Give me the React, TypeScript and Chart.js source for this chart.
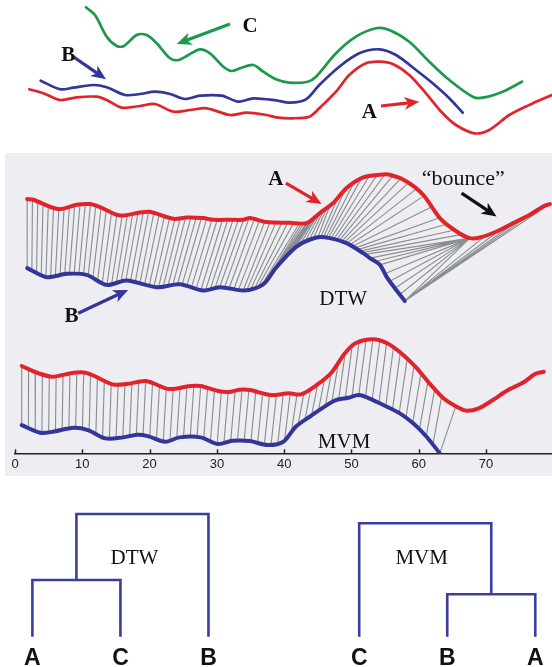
import React, { useEffect, useRef } from 'react';
import { Chart, registerables } from 'chart.js';

Chart.register(...registerables);

// ---------------- data (x: time index, y: amplitude) ----------------
const topA: [number, number][] = [
  [2.11, 6.07], [4.19, 5.67], [6.67, 5.0], [9.15, 5.27], [12.12, 5.33], [13.61, 5.0], [15.84, 4.23],
  [18.56, 4.4], [20.79, 4.6], [23.51, 3.83], [25.99, 4.0], [28.47, 4.17], [31.93, 3.5], [34.41, 3.73],
  [37.38, 3.5], [38.77, 3.27], [41.25, 3.17], [43.71, 3.33], [45.2, 4.17], [47.68, 5.83], [49.66, 7.5],
  [52.14, 8.67], [54.12, 8.83], [56.11, 8.6], [58.57, 7.5], [61.05, 5.67], [63.54, 3.67], [65.51, 2.5],
  [68.23, 1.67], [70.46, 2.0], [73.43, 3.5], [76.4, 4.5], [79.78, 5.5],
];
const topB: [number, number][] = [
  [3.8, 6.93], [6.67, 6.07], [8.65, 6.23], [11.62, 6.5], [13.61, 6.27], [16.33, 5.5], [18.56, 5.6],
  [20.79, 5.83], [23.02, 5.6], [25.25, 5.1], [27.47, 5.43], [30.7, 5.43], [33.17, 4.83], [35.39, 5.17],
  [38.77, 4.97], [40.74, 4.73], [43.22, 5.07], [45.2, 6.5], [48.17, 8.33], [51.14, 9.67], [54.12, 10.07],
  [56.6, 9.5], [59.57, 8.0], [62.05, 6.67], [64.52, 5.17], [66.51, 3.73],
];
const topC: [number, number][] = [
  [10.53, 14.27], [11.87, 13.5], [13.61, 11.33], [15.1, 10.4], [16.18, 10.4], [18.07, 11.5], [19.55, 11.5],
  [21.04, 10.67], [23.02, 9.17], [24.25, 9.0], [25.74, 9.5], [27.47, 10.07], [28.96, 9.67], [30.94, 8.33],
  [32.18, 7.9], [33.42, 8.17], [35.39, 8.5], [36.88, 7.83], [38.77, 7.07], [40.74, 6.73], [43.48, 6.83],
  [44.71, 7.33], [47.68, 9.67], [50.65, 11.33], [53.63, 12.17], [55.6, 12.0], [58.57, 10.83], [61.55, 8.83],
  [64.52, 7.0], [67.99, 5.33], [69.48, 5.23], [72.45, 5.83], [75.32, 6.83],
];

const dtwA: [number, number][] = [
  [1.81, 25.4], [2.7, 25.33], [6.42, 24.4], [9.15, 24.83], [11.13, 24.9], [12.62, 24.6], [15.59, 23.76],
  [18.56, 24.06], [20.04, 24.13], [23.51, 23.43], [25.5, 23.56], [27.96, 23.5], [29.45, 23.33], [31.93, 23.33],
  [33.91, 23.33], [34.9, 23.5], [37.38, 23.1], [40.85, 23.03], [43.33, 23.0], [45.3, 24.0], [47.28, 25.0],
  [49.27, 26.5], [51.74, 27.56], [54.22, 27.83], [55.71, 27.83], [58.19, 27.16], [60.65, 25.83], [63.14, 23.5],
  [65.62, 22.16], [67.59, 21.5], [69.08, 21.56], [71.56, 22.16], [74.03, 23.0], [76.51, 23.83], [78.48, 24.66],
  [79.48, 24.9],
];
const dtwB: [number, number][] = [
  [1.81, 18.5], [4.7, 17.6], [7.67, 17.93], [10.64, 17.83], [13.61, 16.83], [16.58, 17.26], [21.04, 16.6],
  [24.5, 16.9], [27.96, 16.26], [30.45, 16.6], [33.91, 16.26], [35.65, 16.48], [37.13, 17.03], [38.77, 18.53],
  [41.84, 20.66], [44.81, 21.56], [46.79, 21.5], [49.27, 21.0], [51.74, 20.0], [52.74, 19.5], [54.22, 18.83],
  [55.22, 17.63], [56.45, 16.5], [57.93, 15.23],
];

const mvmA: [number, number][] = [
  [1.0, 8.73], [3.51, 8.0], [5.6, 7.66], [8.74, 8.06], [10.83, 8.0], [14.5, 6.9], [16.6, 6.93], [19.47, 7.23],
  [22.87, 6.43], [26.0, 6.73], [27.58, 6.73], [30.19, 6.23], [31.77, 6.13], [33.33, 6.36], [34.9, 6.33],
  [38.04, 5.83], [40.65, 6.0], [42.5, 5.9], [44.84, 6.83], [46.94, 8.0], [49.03, 10.0], [50.59, 11.0],
  [53.21, 11.4], [55.31, 11.0], [57.4, 10.0], [59.49, 8.66], [61.59, 7.0], [63.68, 5.5], [65.77, 4.6],
  [67.07, 4.26], [68.92, 4.5], [71.01, 5.33], [73.09, 6.26], [75.71, 7.16], [77.28, 7.93], [78.59, 8.16],
];
const mvmB: [number, number][] = [
  [1.0, 2.83], [3.77, 2.06], [5.6, 2.16], [8.74, 2.56], [10.83, 2.33], [13.45, 1.5], [16.06, 1.6], [18.16, 1.86],
  [19.73, 1.73], [22.35, 1.16], [24.44, 1.6], [27.58, 1.6], [30.19, 0.93], [32.29, 1.26], [34.9, 1.23],
  [37.52, 0.83], [39.88, 1.16], [41.71, 2.66], [43.8, 3.66], [47.46, 5.26], [49.55, 5.56], [51.13, 5.83],
  [53.21, 5.33], [54.22, 5.0], [57.19, 4.0], [59.17, 3.0], [61.16, 1.66], [63.13, 0.0],
];

// warping paths (knots on A, knots on B, number of links per segment)
const dtwPathA = [1.81, 37.9, 42.3, 45.0, 46.8, 63.1, 67.6, 67.6, 79.48];
const dtwPathB = [1.81, 33.9, 36.7, 42.3, 45.0, 50.5, 52.0, 57.93, 57.93];
const dtwPathSteps = [46, 5, 8, 4, 14, 4, 8, 5];
const mvmPathA = [1.0, 63.4, 65.5];
const mvmPathB = [1.0, 62.1, 63.13];
const mvmPathSteps = [61, 1];

const xTickValues = [0, 10, 20, 30, 40, 50, 60, 70];

const dtwLeaves = ['A', 'C', 'B'];
const dtwMerges = [[0, 1], [3, 2]];
const dtwHeights = [5.67, 12.27];
const mvmLeaves = ['C', 'B', 'A'];
const mvmMerges = [[1, 2], [0, 3]];
const mvmHeights = [4.24, 11.34];

// ---------------- styles ----------------
const RED = '#e1242b';
const BLUE = '#33359a';
const GREEN = '#1b9a4b';
const GRAY_LINK = '#8a8f92';
const PANEL = '#eeeef2';
const DENDRO = '#3a3e9e';
const SERIF = '"Liberation Serif", "Times New Roman", serif';
const SANS = '"Liberation Sans", Arial, sans-serif';

type Arrow = { x1: number; y1: number; x2: number; y2: number; color: string };
type Label = { text: string; x: number; y: number; font: string; color: string };

function pts(arr: [number, number][]) {
  return arr.map(([x, y]) => ({ x, y }));
}

function interp(curve: [number, number][], x: number): number {
  if (x <= curve[0][0]) return curve[0][1];
  for (let i = 1; i < curve.length; i++) {
    if (x <= curve[i][0]) {
      const [x0, y0] = curve[i - 1];
      const [x1, y1] = curve[i];
      return y0 + ((y1 - y0) * (x - x0)) / (x1 - x0);
    }
  }
  return curve[curve.length - 1][1];
}

function buildLinks(cA: [number, number][], cB: [number, number][], pA: number[], pB: number[], steps: number[]) {
  const out: { x: number; y: number | null }[] = [];
  const push = (ua: number, ub: number) => {
    out.push({ x: ua, y: interp(cA, ua) }, { x: ub, y: interp(cB, ub) }, { x: ub, y: null });
  };
  for (let k = 0; k < steps.length; k++) {
    for (let i = 0; i < steps[k]; i++) {
      const t = i / steps[k];
      push(pA[k] + (pA[k + 1] - pA[k]) * t, pB[k] + (pB[k + 1] - pB[k]) * t);
    }
  }
  push(pA[pA.length - 1], pB[pB.length - 1]);
  return out;
}

function curve(data: [number, number][], color: string, width: number) {
  return {
    data: pts(data),
    showLine: true,
    borderColor: color,
    borderWidth: width,
    pointRadius: 0,
    tension: 0.3,
    borderJoinStyle: 'round' as const,
    borderCapStyle: 'round' as const,
    order: 0,
  };
}

function drawArrow(ctx: CanvasRenderingContext2D, x1: number, y1: number, x2: number, y2: number, color: string) {
  const ang = Math.atan2(y2 - y1, x2 - x1);
  const head = 15;
  const half = 6.5;
  const c = Math.cos(ang), s = Math.sin(ang);
  const bx = x2 - head * c, by = y2 - head * s;
  ctx.save();
  ctx.strokeStyle = color;
  ctx.fillStyle = color;
  ctx.lineWidth = 3.2;
  ctx.lineCap = 'butt';
  ctx.beginPath();
  ctx.moveTo(x1, y1);
  ctx.lineTo(x2 - head * 0.7 * c, y2 - head * 0.7 * s);
  ctx.stroke();
  ctx.beginPath();
  ctx.moveTo(x2, y2);
  ctx.lineTo(bx - half * s, by + half * c);
  ctx.lineTo(x2 - head * 0.72 * c, y2 - head * 0.72 * s);
  ctx.lineTo(bx + half * s, by - half * c);
  ctx.closePath();
  ctx.fill();
  ctx.restore();
}

function annotations(arrows: Arrow[], labels: Label[], extra?: (chart: any) => void) {
  return {
    id: 'annotations',
    afterDatasetsDraw(chart: any) {
      const { ctx } = chart;
      const xs = chart.scales.x;
      const ys = chart.scales.y;
      if (extra) extra(chart);
      arrows.forEach((a) =>
        drawArrow(ctx, xs.getPixelForValue(a.x1), ys.getPixelForValue(a.y1), xs.getPixelForValue(a.x2), ys.getPixelForValue(a.y2), a.color)
      );
      ctx.save();
      ctx.textAlign = 'center';
      ctx.textBaseline = 'alphabetic';
      labels.forEach((l) => {
        ctx.font = l.font;
        ctx.fillStyle = l.color;
        ctx.fillText(l.text, xs.getPixelForValue(l.x), ys.getPixelForValue(l.y));
      });
      ctx.restore();
    },
  };
}

const baseOptions = {
  animation: false as const,
  responsive: false,
  events: [] as any[],
  plugins: { legend: { display: false }, tooltip: { enabled: false } },
};

// ---------------- chart configs ----------------
function topConfig(): any {
  return {
    type: 'scatter',
    data: { datasets: [curve(topC, GREEN, 2.7), curve(topB, BLUE, 2.7), curve(topA, RED, 2.7)] },
    options: {
      ...baseOptions,
      layout: { padding: 0 },
      scales: {
        x: { type: 'linear', display: false, min: -2.244, max: 79.78 },
        y: { type: 'linear', display: false, min: 0, max: 15 },
      },
    },
    plugins: [
      annotations(
        [
          { x1: 31.93, y1: 12.6, x2: 24.01, y2: 10.6, color: GREEN },
          { x1: 8.65, y1: 9.33, x2: 13.51, y2: 7.07, color: BLUE },
          { x1: 54.37, y1: 4.4, x2: 60.06, y2: 4.83, color: RED },
        ],
        [
          { text: 'C', x: 34.9, y: 11.77, font: `bold 21px ${SERIF}`, color: '#111' },
          { text: 'B', x: 7.9, y: 8.93, font: `bold 21px ${SERIF}`, color: '#111' },
          { text: 'A', x: 52.63, y: 3.23, font: `bold 21px ${SERIF}`, color: '#111' },
        ]
      ),
    ],
  };
}

function middleConfig(): any {
  const linkStyle = {
    showLine: true,
    borderColor: GRAY_LINK,
    borderWidth: 1.15,
    pointRadius: 0,
    spanGaps: false,
    order: 1,
  };
  return {
    type: 'scatter',
    data: {
      datasets: [
        { ...linkStyle, data: buildLinks(dtwA, dtwB, dtwPathA, dtwPathB, dtwPathSteps) },
        { ...linkStyle, data: buildLinks(mvmA, mvmB, mvmPathA, mvmPathB, mvmPathSteps) },
        curve(dtwA, RED, 4),
        curve(dtwB, BLUE, 4),
        curve(mvmA, RED, 4),
        curve(mvmB, BLUE, 4),
      ],
    },
    options: {
      ...baseOptions,
      layout: { padding: { left: 10, right: 0, top: 0, bottom: 1 } },
      scales: {
        x: {
          type: 'linear',
          min: 0,
          max: 79.8,
          afterBuildTicks: (axis: any) => {
            axis.ticks = xTickValues.map((v) => ({ value: v }));
          },
          grid: { display: false, drawTicks: false, tickLength: 0 },
          border: { display: true, color: '#222', width: 1.5 },
          ticks: { font: { family: SANS, size: 13 }, color: '#222', padding: 3, autoSkip: false, maxRotation: 0 },
        },
        y: { type: 'linear', display: false, min: 0, max: 30 },
      },
    },
    plugins: [
      annotations(
        [
          { x1: 40.25, y1: 27.0, x2: 45.56, y2: 24.9, color: RED },
          { x1: 66.36, y1: 26.0, x2: 71.56, y2: 23.66, color: '#111' },
          { x1: 9.39, y1: 14.0, x2: 16.82, y2: 16.33, color: BLUE },
        ],
        [
          { text: 'A', x: 38.77, y: 26.76, font: `bold 21px ${SERIF}`, color: '#111' },
          { text: 'B', x: 8.41, y: 13.13, font: `bold 21px ${SERIF}`, color: '#111' },
          { text: '\u201cbounce\u201d', x: 66.6, y: 26.76, font: `22px ${SERIF}`, color: '#111' },
          { text: 'DTW', x: 48.77, y: 14.83, font: `21px ${SERIF}`, color: '#111' },
          { text: 'MVM', x: 48.9, y: 0.5, font: `21px ${SERIF}`, color: '#111' },
        ],
        (chart: any) => {
          const { ctx, chartArea } = chart;
          const xs = chart.scales.x;
          ctx.save();
          ctx.strokeStyle = '#222';
          ctx.lineWidth = 1.5;
          xTickValues.forEach((v) => {
            const px = Math.round(xs.getPixelForValue(v)) + 0.5;
            ctx.beginPath();
            ctx.moveTo(px, chartArea.bottom);
            ctx.lineTo(px, chartArea.bottom - 4);
            ctx.stroke();
          });
          ctx.restore();
        }
      ),
    ],
  };
}

function dendroConfig(leaves: string[], merges: number[][], heights: number[], xMin: number, xMax: number, title: string, titleX: number): any {
  const nodeX: number[] = leaves.map((_, i) => i);
  const nodeH: number[] = leaves.map(() => 0);
  const datasets: any[] = [];
  merges.forEach(([l, r], k) => {
    const h = heights[k];
    datasets.push({
      data: [
        { x: nodeX[l], y: nodeH[l] },
        { x: nodeX[l], y: h },
        { x: nodeX[r], y: h },
        { x: nodeX[r], y: nodeH[r] },
      ],
      showLine: true,
      borderColor: DENDRO,
      borderWidth: 2.6,
      pointRadius: 0,
      tension: 0,
      borderJoinStyle: 'miter',
      borderCapStyle: 'butt',
    });
    nodeX.push((nodeX[l] + nodeX[r]) / 2);
    nodeH.push(h);
  });
  const labels: Label[] = leaves.map((t, i) => ({ text: t, x: i, y: -2.83, font: `bold 23px ${SANS}`, color: '#111' }));
  labels.push({ text: title, x: titleX, y: 7.27, font: `21px ${SERIF}`, color: '#111' });
  return {
    type: 'scatter',
    data: { datasets },
    options: {
      ...baseOptions,
      layout: { padding: 0 },
      scales: {
        x: { type: 'linear', display: false, min: xMin, max: xMax },
        y: { type: 'linear', display: false, min: -3.03, max: 14.67 },
      },
    },
    plugins: [annotations([], labels)],
  };
}

// ---------------- components ----------------
function ChartCanvas(props: { left: number; top: number; width: number; height: number; bg?: string; make: () => any }) {
  const ref = useRef<HTMLCanvasElement | null>(null);
  useEffect(() => {
    const chart = new Chart(ref.current as HTMLCanvasElement, props.make());
    return () => chart.destroy();
  }, []);
  return (
    <canvas
      ref={ref}
      width={props.width}
      height={props.height}
      style={{
        position: 'absolute',
        left: props.left,
        top: props.top,
        width: props.width,
        height: props.height,
        background: props.bg || 'transparent',
      }}
    />
  );
}

export default function App() {
  return (
    <div style={{ position: 'absolute', left: 0, top: 0, width: 552, height: 667, background: '#fff', overflow: 'hidden' }}>
      <ChartCanvas left={0} top={0} width={552} height={150} make={topConfig} />
      <ChartCanvas left={5} top={153} width={547} height={323} bg={PANEL} make={middleConfig} />
      <ChartCanvas
        left={0}
        top={490}
        width={276}
        height={177}
        make={() => dendroConfig(dtwLeaves, dtwMerges, dtwHeights, -0.368, 2.767, 'DTW', 1.16)}
      />
      <ChartCanvas
        left={276}
        top={490}
        width={276}
        height={177}
        make={() => dendroConfig(mvmLeaves, mvmMerges, mvmHeights, -0.945, 2.19, 'MVM', 0.71)}
      />
    </div>
  );
}
